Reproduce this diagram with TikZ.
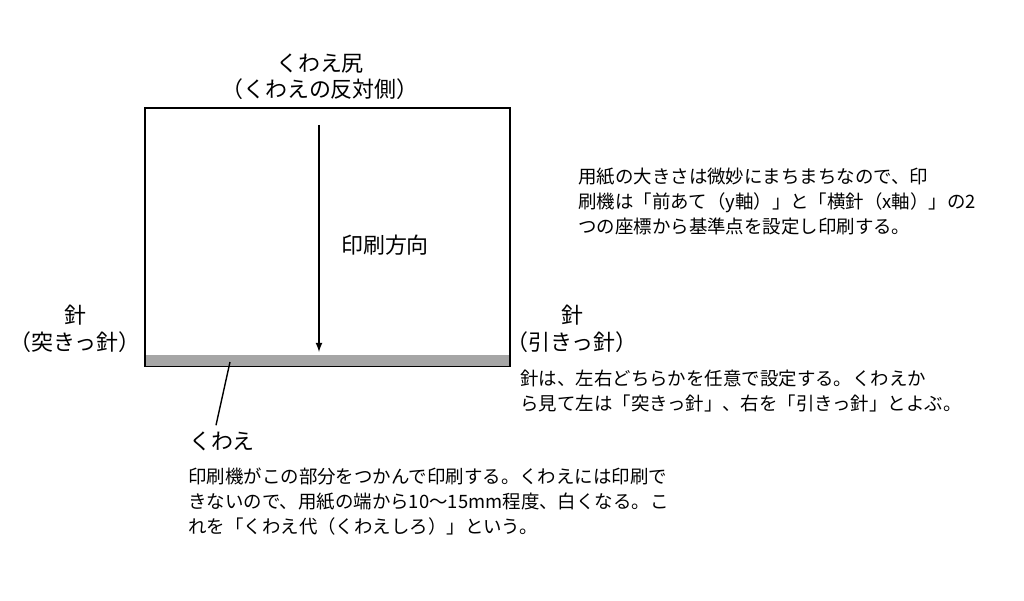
\documentclass[tikz,border=0pt]{standalone}
\usepackage{fontspec}
\setmainfont{Noto Sans CJK JP}
\begin{document}
\begin{tikzpicture}[x=0.02cm,y=-0.02cm,
  label/.style = {font=\fontsize{12.5}{15}\selectfont},
  note/.style  = {font=\fontsize{10.5}{14.2}\selectfont, align=left, anchor=north west, inner sep=0pt}
                   ]
\useasboundingbox (0,0) rectangle (1024,601);
% sheet
\draw[thick] (145,108) rectangle (510,366);
\fill[gray!70] (146,355) rectangle (509,365.5);
\coordinate (top) at (319,125);
\coordinate (bot) at (319,352);
\draw[thick,-latex] (top) -- (bot);
\node[label] (dir) at (385,245) {印刷方向};
% edge labels
\node[label, align=center] (tail) at (320,77) {くわえ尻\\（くわえの反対側）};
\node[label, align=center] (left) at (75,329) {針\\（突きっ針）};
\node[label, align=center] (right) at (572,329) {針\\（引きっ針）};
\coordinate (bar) at (230,362);
\node[label] (kuwae) at (222,441) {くわえ};
\draw[thick] (bar) -- (kuwae.north -| 216,0);
% notes
\node[note] (n1) at (578,168) {用紙の大きさは微妙にまちまちなので、印\\刷機は「前あて（y軸）」と「横針（x軸）」の2\\つの座標から基準点を設定し印刷する。};
\node[note] (n2) at (520,370) {針は、左右どちらかを任意で設定する。くわえか\\ら見て左は「突きっ針」、右を「引きっ針」とよぶ。};
\node[note] (n3) at (188,468) {印刷機がこの部分をつかんで印刷する。くわえには印刷で\\きないので、用紙の端から10〜15mm程度、白くなる。こ\\れを「くわえ代（くわえしろ）」という。};
\end{tikzpicture}
\end{document}
